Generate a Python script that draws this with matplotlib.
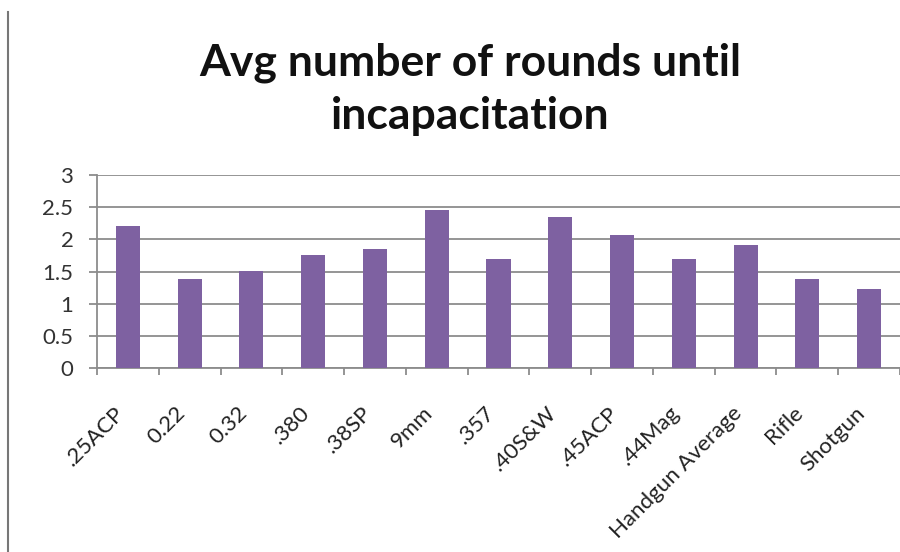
import matplotlib
matplotlib.use("Agg")
import matplotlib.pyplot as plt
from matplotlib.lines import Line2D

# values
calibers = [".25ACP", "0.22", "0.32", ".380", ".38SP", "9mm", ".357",
            ".40S&W", ".45ACP", ".44Mag", "Handgun Average", "Rifle", "Shotgun"]
avg_rounds = [2.20, 1.38, 1.51, 1.76, 1.85, 2.45, 1.70,
              2.35, 2.07, 1.70, 1.91, 1.38, 1.23]
y_ticks = [0, 0.5, 1, 1.5, 2, 2.5, 3]
y_labels = ["0", "0.5", "1", "1.5", "2", "2.5", "3"]

bar_color = "#7E61A1"
grid_color = "#8C8C8C"

plt.rcParams["font.family"] = ["Lato", "DejaVu Sans"]

fig = plt.figure(figsize=(9, 5.52), dpi=100)
ax = fig.add_axes([97 / 900, 1 - 368 / 552, 803 / 900, 193 / 552])

x = list(range(len(calibers)))
ax.bar(x, avg_rounds, width=0.39, color=bar_color, zorder=3)

ax.set_xlim(-0.5, len(calibers) - 0.5)
ax.set_ylim(0, 3)
ax.set_yticks(y_ticks)
ax.set_yticklabels(y_labels, fontsize=16, color="#333333")
ax.yaxis.grid(True, color=grid_color, linewidth=1.3, zorder=0)

# category boundaries carry the ticks, labels sit on the centres
ax.set_xticks([i - 0.5 for i in range(len(calibers) + 1)])
ax.set_xticklabels([])
ax.set_xticks(x, minor=True)
ax.set_xticklabels(calibers, minor=True, rotation=45, ha="right", va="top",
                   fontsize=16, color="#222222")
ax.tick_params(axis="x", which="major", direction="out", length=5,
               color=grid_color, width=1.3)
ax.tick_params(axis="x", which="minor", length=0, pad=25)
ax.tick_params(axis="y", direction="out", length=6, color=grid_color,
               width=1.3, pad=11)

for side in ("top", "right"):
    ax.spines[side].set_visible(False)
for side in ("left", "bottom"):
    ax.spines[side].set_color(grid_color)
    ax.spines[side].set_linewidth(1.3)

fig.text(470 / 900, 1 - 89 / 552, "Avg number of rounds until\nincapacitation",
         ha="center", va="center", fontsize=32, fontweight="bold",
         linespacing=1.4, color="#111111")

# chart-area border visible on the left side
fig.add_artist(Line2D([8 / 900, 8 / 900], [0, 1 - 12 / 552],
                      transform=fig.transFigure, color="#777777", linewidth=1.5))

fig.savefig("out.png", dpi=100)
